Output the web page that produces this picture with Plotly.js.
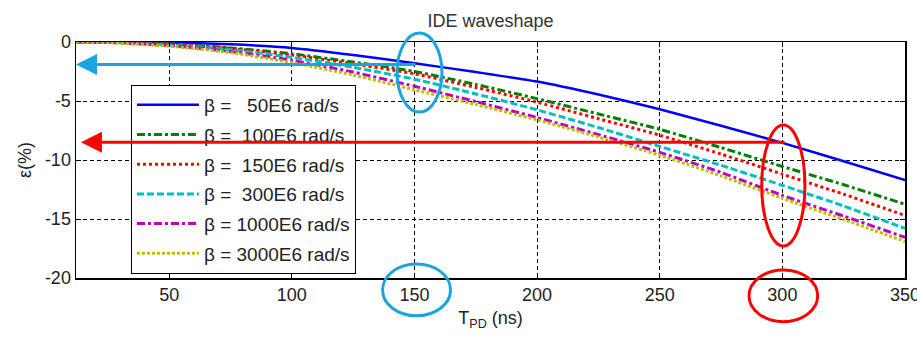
<!DOCTYPE html>
<html>
<head>
<meta charset="utf-8">
<script src="https://cdn.plot.ly/plotly-3.0.1.min.js"></script>
<style>
  html, body { margin: 0; padding: 0; background: #fff; }
  #chart { width: 917px; height: 339px; }
</style>
</head>
<body>
<div id="chart"></div>
<script>
// Pulse duration T_PD (ns)
const tpd = [12, 25, 50, 75, 100, 125, 150, 175, 200, 225, 250, 275, 300, 325, 350];

// Waveshape error ε (%) for each β
const eps50   = [0, 0,     -0.05, -0.2,  -0.5,  -1.1,  -1.8,  -2.55, -3.35, -4.45, -5.7,  -7.1,  -8.55, -10.1, -11.7];
const eps100  = [0, -0.02, -0.15, -0.5,  -1.0,  -1.7,  -2.5,  -3.6,  -4.8,  -6.1,  -7.4,  -8.95, -10.55, -12.1, -13.75];
const eps150  = [0, -0.02, -0.2,  -0.55, -1.1,  -1.85, -2.7,  -3.85, -5.1,  -6.5,  -7.9,  -9.5,  -11.2, -12.9, -14.7];
const eps300  = [0, -0.03, -0.25, -0.65, -1.3,  -2.15, -3.15, -4.4,  -5.75, -7.25, -8.85, -10.45, -12.15, -13.9, -15.8];
const eps1000 = [0, -0.04, -0.3,  -0.8,  -1.55, -2.55, -3.75, -5.05, -6.4,  -7.85, -9.35, -11.05, -13.0, -14.75, -16.55];
const eps3000 = [0, -0.05, -0.35, -0.9,  -1.75, -2.8,  -4.05, -5.3,  -6.6,  -8.05, -9.6,  -11.35, -13.25, -15.05, -16.9];

const seriesNames = [
  'β =\u00a0\u00a0\u00a050E6 rad/s',
  'β =\u00a0\u00a0100E6 rad/s',
  'β =\u00a0\u00a0150E6 rad/s',
  'β =\u00a0\u00a0300E6 rad/s',
  'β = 1000E6 rad/s',
  'β = 3000E6 rad/s'
];
const seriesValues = [eps50, eps100, eps150, eps300, eps1000, eps3000];

const xTicks = [50, 100, 150, 200, 250, 300, 350];
const yTicks = [0, -5, -10, -15, -20];
const yTickText = ['0', '-5', '-10', '-15', '-20'];

// Highlighted readings (arrows point to the ε axis)
const markT = [150, 300];
const markEps = [-1.9, -8.5];

const styles = [
  { color: '#0000ff', dash: 'solid', width: 2.5 },
  { color: '#008000', dash: '8px,3px,3px,3px', width: 3 },
  { color: '#ff0000', dash: '3px,3px', width: 3 },
  { color: '#00bfbf', dash: '7px,3px', width: 3 },
  { color: '#bf00bf', dash: '8px,3px,3px,3px', width: 3 },
  { color: '#bfbf00', dash: '3px,2px', width: 3 }
];

const traces = seriesValues.map((vals, i) => ({
  x: tpd,
  y: vals,
  name: seriesNames[i],
  legendgroup: 'g' + i,
  type: 'scatter',
  mode: 'lines',
  line: { color: styles[i].color, dash: styles[i].dash, width: styles[i].width, shape: 'spline', smoothing: 0.6 }
}));

const font = 'Liberation Sans, Arial, sans-serif';
const textColor = '#222';
const blueMark = '#1ba4e0';
const redMark = '#ff0000';

const layout = {
  width: 917,
  height: 339,
  margin: { l: 76, r: 12, t: 42, b: 61 },
  paper_bgcolor: '#ffffff',
  plot_bgcolor: '#ffffff',
  font: { family: font, size: 18, color: textColor },
  title: { text: 'IDE waveshape', font: { family: font, size: 18, color: '#333' }, x: 0.535, xanchor: 'center', y: 0.94, yanchor: 'middle' },
  showlegend: true,
  legend: {
    x: 0.0663, xanchor: 'left', y: 0.818, yanchor: 'top',
    bgcolor: '#ffffff', bordercolor: '#000000', borderwidth: 1,
    font: { family: font, size: 19, color: textColor },
    itemwidth: 62,
    tracegroupgap: 2
  },
  xaxis: {
    range: [12, 350],
    tickvals: xTicks,
    ticks: 'inside', ticklen: 5, tickcolor: '#000',
    ticklabeloverflow: 'allow',
    showline: true, linecolor: '#000', linewidth: 1.5, mirror: 'ticks',
    showgrid: true, gridcolor: '#000', gridwidth: 1, griddash: '4px,3px',
    zeroline: false,
    tickfont: { family: font, size: 18, color: textColor },
    title: { text: 'T<sub>PD</sub> (ns)', font: { family: font, size: 18, color: textColor }, standoff: 7 }
  },
  yaxis: {
    range: [-20, 0],
    tickvals: yTicks,
    ticktext: yTickText,
    ticks: 'inside', ticklen: 5, tickcolor: '#000',
    showline: true, linecolor: '#000', linewidth: 1.5, mirror: 'ticks',
    showgrid: true, gridcolor: '#000', gridwidth: 1, griddash: '4px,3px',
    zeroline: false,
    tickfont: { family: font, size: 18, color: textColor },
    title: { text: 'ε(%)', font: { family: font, size: 18, color: textColor }, standoff: 8 }
  },
  shapes: [
    { type: 'circle', xref: 'x', yref: 'paper', x0: 142.9, x1: 161.2, y0: 0.703, y1: 1.038, line: { color: blueMark, width: 3 } },
    { type: 'circle', xref: 'x', yref: 'paper', x0: 137.0, x1: 164.7, y0: -0.16, y1: 0.059, line: { color: blueMark, width: 3 } },
    { type: 'circle', xref: 'x', yref: 'paper', x0: 291.6, x1: 309.2, y0: 0.136, y1: 0.648, line: { color: redMark, width: 3 } },
    { type: 'circle', xref: 'x', yref: 'paper', x0: 286.4, x1: 314.4, y0: -0.185, y1: 0.034, line: { color: redMark, width: 3 } }
  ],
  annotations: [
    { x: 12, y: markEps[0], xref: 'x', yref: 'y', ax: markT[0] + 1, ay: markEps[0], axref: 'x', ayref: 'y',
      text: '', showarrow: true, arrowhead: 2, arrowsize: 1.4, arrowwidth: 3, arrowcolor: blueMark, standoff: 0 },
    { x: 14, y: markEps[1], xref: 'x', yref: 'y', ax: markT[1] + 1.5, ay: markEps[1], axref: 'x', ayref: 'y',
      text: '', showarrow: true, arrowhead: 2, arrowsize: 1.4, arrowwidth: 3, arrowcolor: redMark, standoff: 0 }
  ]
};

Plotly.newPlot('chart', traces, layout, { displayModeBar: false, staticPlot: true });
</script>
</body>
</html>
